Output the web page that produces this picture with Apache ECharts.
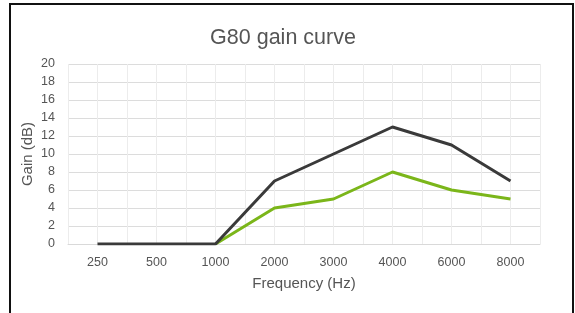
<!DOCTYPE html>
<html>
<head>
<meta charset="utf-8">
<script src="https://cdn.jsdelivr.net/npm/echarts@6/dist/echarts.min.js"></script>
<style>
html,body{margin:0;padding:0;background:#fff;}
#wrap{position:absolute;left:9px;top:3px;width:565px;height:320px;border:2px solid #111;box-sizing:border-box;border-bottom:none;}
#chart{position:absolute;left:0;top:0;width:575px;height:313px;}
</style>
</head>
<body>
<div id="wrap"></div>
<div id="chart"></div>
<script>
const categories = ['250','500','1000','2000','3000','4000','6000','8000'];
const darkSeries = [0,0,0,7,10,13,11,7];
const greenSeries = [null,null,0,4,5,8,6,5];
const yTicks = {min:0, max:20, interval:2};
const halfCats = Array.from({length: categories.length*2}, (_, i) => '');

const chart = echarts.init(document.getElementById('chart'), null, {renderer:'canvas'});
const txt = '#555555';
chart.setOption({
  animation:false,
  title:{text:'G80 gain curve', left:278, top:22, textAlign:'center',
    textStyle:{fontFamily:'Liberation Sans, Arial', fontSize:21.5, fontWeight:'normal', color:txt}},
  grid:{left:68, right:35, top:64, bottom:69, containLabel:false},
  xAxis:[{
    type:'category', data:categories, boundaryGap:true,
    name:'Frequency (Hz)', nameLocation:'middle', nameGap:32,
    nameTextStyle:{fontFamily:'Liberation Sans, Arial', fontSize:15, color:txt},
    axisLine:{show:true, lineStyle:{color:'#d9d9d9', width:1}},
    axisTick:{show:false},
    axisLabel:{fontFamily:'Liberation Sans, Arial', fontSize:12.5, color:txt, margin:12},
    splitLine:{show:false}
  },{
    type:'category', data:halfCats, boundaryGap:true, position:'bottom',
    axisLine:{show:false}, axisTick:{show:false}, axisLabel:{show:false},
    splitLine:{show:true, interval:0, lineStyle:{color:'#ececec', width:1}}
  }],
  yAxis:{
    type:'value', min:yTicks.min, max:yTicks.max, interval:yTicks.interval,
    name:'Gain (dB)', nameLocation:'middle', nameGap:33, nameRotate:90, nameMoveOverlap:false,
    nameTextStyle:{fontFamily:'Liberation Sans, Arial', fontSize:15, color:txt},
    axisLine:{show:false}, axisTick:{show:false},
    axisLabel:{fontFamily:'Liberation Sans, Arial', fontSize:12.5, color:txt, margin:13},
    splitLine:{show:true, lineStyle:{color:'#dcdcdc', width:1}}
  },
  series:[
    {type:'line', data:greenSeries, xAxisIndex:0, symbol:'none', z:2,
     lineStyle:{color:'#7bb61a', width:3}},
    {type:'line', data:darkSeries, xAxisIndex:0, symbol:'none', z:3,
     lineStyle:{color:'#3a3a3a', width:3}}
  ]
});
</script>
</body>
</html>
